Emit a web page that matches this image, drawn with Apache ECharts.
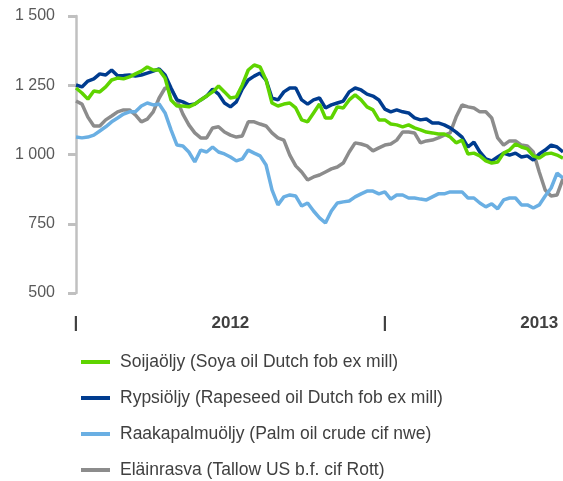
<!DOCTYPE html>
<html>
<head>
<meta charset="utf-8">
<title>Kasviöljyt</title>
<script src="https://cdn.jsdelivr.net/npm/echarts@6/dist/echarts.min.js"></script>
</head>
<body style="margin:0">
	<div id="main" style="width: 563px; height: 481px;"></div>
	<script type="text/javascript">
		// viikkodata, luettu kuvasta
		var soija = [1240,1222,1200,1229,1226,1244,1269,1276,1273,1280,1291,1301,1316,1305,1305,1276,1197,1175,1175,1172,
			1182,1197,1211,1226,1247,1226,1204,1208,1251,1305,1323,1316,1269,1186,1175,1182,1186,1168,1125,1118,
			1150,1182,1132,1132,1172,1168,1197,1215,1197,1172,1161,1125,1125,1110,1107,1100,1107,1096,1089,1081,
			1078,1074,1074,1063,1042,1052,1002,1005,995,977,969,973,1005,1016,1038,1027,1020,995,987,1002,
			1005,998,987];
		var rypsi = [1251,1244,1265,1273,1291,1287,1305,1284,1285,1287,1283,1287,1294,1301,1309,1287,1240,1197,1190,1179,
			1182,1197,1211,1236,1218,1186,1172,1190,1236,1269,1283,1294,1269,1204,1197,1226,1240,1240,1197,1182,
			1197,1204,1168,1179,1186,1193,1226,1240,1233,1218,1211,1197,1164,1154,1161,1154,1150,1132,1125,1128,
			1114,1114,1107,1096,1081,1063,1027,1045,1009,984,977,991,1005,998,1005,991,995,980,1002,1016,
			1034,1027,1009];
		var palmu = [1063,1060,1063,1070,1085,1100,1118,1132,1146,1154,1154,1175,1186,1179,1182,1150,1089,1034,1031,1009,
			973,1016,1009,1027,1009,1002,991,977,984,1016,1005,995,962,872,818,847,854,850,814,825,
			796,771,753,796,825,829,832,847,858,868,868,858,865,839,854,854,843,843,839,836,
			847,858,858,865,865,865,843,843,825,811,822,804,836,843,843,818,818,807,818,850,
			879,933,915];
		var tali = [1193,1182,1135,1103,1103,1125,1139,1154,1161,1161,1143,1118,1128,1154,1204,1240,1236,1197,1146,1107,
			1078,1060,1060,1096,1100,1081,1070,1063,1067,1118,1118,1110,1103,1078,1060,1052,998,959,937,908,
			919,926,937,948,955,969,1009,1042,1038,1031,1013,1024,1034,1038,1052,1081,1081,1078,1042,1049,
			1052,1060,1070,1078,1135,1179,1172,1168,1154,1154,1132,1060,1034,1049,1049,1034,1031,1009,937,872,
			850,854,913];

		var nimet = ['Soijaöljy (Soya oil Dutch fob ex mill)', 'Rypsiöljy (Rapeseed oil Dutch fob ex mill)',
			'Raakapalmuöljy (Palm oil crude cif nwe)', 'Eläinrasva (Tallow US b.f. cif Rott)'];
		var varit = ['#5fd400', '#003c8f', '#6aafe3', '#8c8c8c'];

		// x-akselin merkit: indeksi -> teksti
		var xTickIdx = [0, 26, 52, 78];
		var xTickText = ['|', '2012', '|', '2013'];

		// viikot
		var viikot = [];
		for (var i = 0; i < soija.length; i++) viikot.push('vk' + i);

		function muotoile(v) {
			return String(v).replace(/\B(?=(\d{3})+(?!\d))/g, ' ');
		}

		var sarjat = [soija, rypsi, palmu, tali].map(function (d, k) {
			return {
				name: nimet[k],
				type: 'line',
				data: d,
				symbol: 'none',
				lineStyle: { color: varit[k], width: 3.5 },
				itemStyle: { color: varit[k] },
				z: k == 3 ? 1 : 4 - k
			};
		});

		var myChart = echarts.init(document.getElementById('main'));
		myChart.setOption({
			animation: false,
			textStyle: { fontFamily: 'Liberation Sans, Arial, sans-serif' },
			grid: { left: 76, right: 0, top: 16, bottom: 188 },
			legend: {
				orient: 'vertical',
				left: 81,
				top: 353,
				bottom: 0,
				padding: 0,
				icon: 'rect',
				itemWidth: 29,
				itemHeight: 4,
				itemGap: 18,
				textStyle: { fontSize: 17.5, color: '#404040', lineHeight: 18, padding: [0, 0, 0, 5] },
				data: nimet
			},
			xAxis: {
				type: 'category',
				data: viikot,
				boundaryGap: false,
				axisLine: { show: false },
				axisTick: { show: false },
				axisLabel: {
					interval: function (idx) { return xTickIdx.indexOf(idx) >= 0; },
					formatter: function (v, idx) {
						var j = xTickIdx.indexOf(idx);
						return j >= 0 ? xTickText[j] : '';
					},
					fontSize: 17,
					fontWeight: 'bold',
					color: '#404040',
					margin: 22
				},
				splitLine: { show: false }
			},
			yAxis: {
				type: 'value',
				min: 500,
				max: 1500,
				interval: 250,
				axisLine: { show: true, lineStyle: { color: '#c0c0c0', width: 2.5 } },
				axisTick: { show: true, length: 8, lineStyle: { color: '#c0c0c0', width: 3 } },
				axisLabel: { fontSize: 16, color: '#595959', margin: 21, formatter: muotoile },
				splitLine: { show: false }
			},
			series: sarjat
		});
	</script>
</body>
</html>
